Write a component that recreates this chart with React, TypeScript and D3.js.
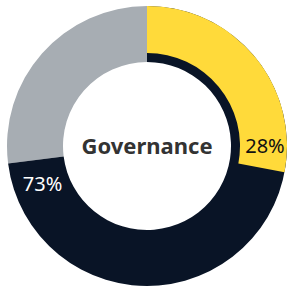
import React, { useRef, useEffect } from 'react';
import * as d3 from 'd3';

// share of each segment, in percent
const categories = ['Governance', 'Other'];
const values = [73, 28];
const labels = ['73%', '28%'];
const centerLabel = 'Governance';

const width = 287;
const height = 290;

const App = () => {
  const svgRef = useRef<SVGSVGElement>(null);

  useEffect(() => {
    const svg = d3.select(svgRef.current);
    svg.selectAll('*').remove();

    const cx = 147;
    const cy = 146;
    const outer = 140;
    const inner = 84;
    const band = 93;

    const angle = d3.scaleLinear().domain([0, 100]).range([0, 2 * Math.PI]);

    const g = svg.append('g').attr('transform', `translate(${cx},${cy})`);
    const arc = d3.arc<any>();

    const navyEnd = angle(values[0]);
    const yellowEnd = angle(values[1]);

    // grey remainder
    g.append('path')
      .attr('d', arc({ innerRadius: inner, outerRadius: outer, startAngle: navyEnd, endAngle: 2 * Math.PI }))
      .attr('fill', '#a7adb3');

    // navy segment, starting at the top
    g.append('path')
      .attr('d', arc({ innerRadius: inner, outerRadius: outer, startAngle: 0, endAngle: navyEnd }))
      .attr('fill', '#091426');

    // yellow on top, leaving a thin navy band inside
    g.append('path')
      .attr('d', arc({ innerRadius: band, outerRadius: outer, startAngle: 0, endAngle: yellowEnd }))
      .attr('fill', '#ffda3a');

    const pos = (a: number, r: number) => [Math.sin(a) * r, -Math.cos(a) * r];

    const [yx, yy] = pos(yellowEnd - 0.19, 118);
    g.append('text')
      .attr('x', yx)
      .attr('y', yy + 7)
      .attr('text-anchor', 'middle')
      .attr('font-family', 'Noto Sans, sans-serif')
      .attr('font-size', 20)
      .attr('fill', '#111')
      .text(labels[1]);

    const [nx, ny] = pos(navyEnd - 0.22, 111);
    g.append('text')
      .attr('x', nx)
      .attr('y', ny + 7)
      .attr('text-anchor', 'middle')
      .attr('font-family', 'Noto Sans, sans-serif')
      .attr('font-size', 20)
      .attr('fill', '#fff')
      .text(labels[0]);

    g.append('text')
      .attr('x', 0)
      .attr('y', 8)
      .attr('text-anchor', 'middle')
      .attr('font-family', 'Noto Sans, sans-serif')
      .attr('font-weight', 'bold')
      .attr('font-size', 22)
      .attr('fill', '#333')
      .text(centerLabel);
  }, []);

  return (
    <svg
      ref={svgRef}
      width={width}
      height={height}
      style={{ position: 'absolute', left: 0, top: 0, background: '#fff' }}
      aria-label={categories.join(', ')}
    ></svg>
  );
};

export default App;
